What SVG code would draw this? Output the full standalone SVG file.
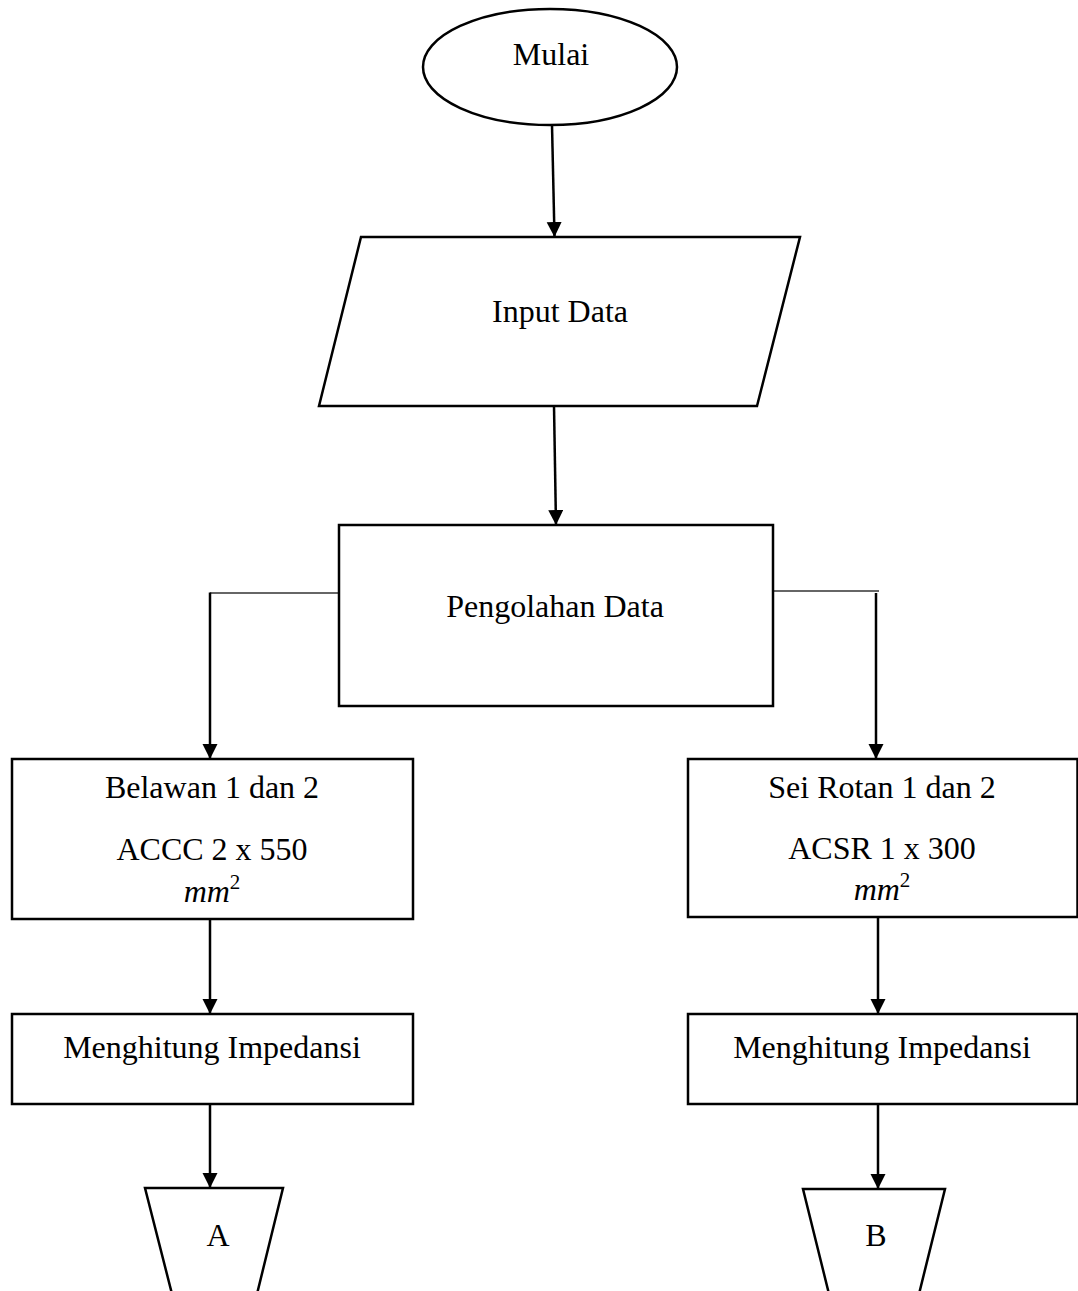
<svg xmlns="http://www.w3.org/2000/svg" width="1078" height="1291" viewBox="0 0 1078 1291">
<style>
.shape{fill:#fff;stroke:#000;stroke-width:2.5}
.t{font-family:"Liberation Serif","Times New Roman",serif;font-size:32px;fill:#000;text-anchor:middle}
.m{font-family:"Liberation Serif","Times New Roman",serif;font-style:italic;font-size:32px;fill:#000;text-anchor:middle}
.c{fill:none;stroke:#000;stroke-width:2.5}
.thin{fill:none;stroke:#333;stroke-width:1.3}
</style>
<defs>
<marker id="ah" markerUnits="userSpaceOnUse" markerWidth="16" markerHeight="16" refX="15" refY="7.5" orient="auto">
<path d="M0,0 L15,7.5 L0,15 z" fill="#000"/>
</marker>
</defs>
<rect width="1078" height="1291" fill="#fff"/>
<g id="connectors">
<line class="c" x1="552" y1="125" x2="554.5" y2="237" marker-end="url(#ah)"/>
<line class="c" x1="554" y1="406" x2="556" y2="525" marker-end="url(#ah)"/>
<line class="thin" x1="339" y1="593" x2="210" y2="593"/>
<line class="c" x1="210" y1="592.5" x2="210" y2="759" marker-end="url(#ah)"/>
<line class="thin" x1="773" y1="591" x2="879" y2="591"/>
<line class="c" x1="876" y1="593" x2="876" y2="759" marker-end="url(#ah)"/>
<line class="c" x1="210" y1="919" x2="210" y2="1014" marker-end="url(#ah)"/>
<line class="c" x1="878" y1="917" x2="878" y2="1014" marker-end="url(#ah)"/>
<line class="c" x1="210" y1="1104" x2="210" y2="1188" marker-end="url(#ah)"/>
<line class="c" x1="878" y1="1104" x2="878" y2="1189" marker-end="url(#ah)"/>
</g>
<g id="mulai">
<ellipse class="shape" cx="550" cy="67" rx="127" ry="58"/>
<text class="t" x="551" y="65">Mulai</text>
</g>
<g id="input">
<polygon class="shape" points="361,237 800,237 757,406 319,406"/>
<text class="t" x="560" y="322">Input Data</text>
</g>
<g id="pengolahan">
<rect class="shape" x="339" y="525" width="434" height="181"/>
<text class="t" x="555" y="617">Pengolahan Data</text>
</g>
<g id="belawan">
<rect class="shape" x="12" y="759" width="401" height="160"/>
<text class="t" x="212" y="798">Belawan 1 dan 2</text>
<text class="t" x="212" y="860">ACCC 2 x 550</text>
<text class="m" x="212" y="902">mm<tspan font-size="21" font-style="normal" dy="-13">2</tspan></text>
</g>
<g id="seirotan">
<rect class="shape" x="688" y="759" width="389.5" height="158"/>
<text class="t" x="882" y="798">Sei Rotan 1 dan 2</text>
<text class="t" x="882" y="859">ACSR 1 x 300</text>
<text class="m" x="882" y="900">mm<tspan font-size="21" font-style="normal" dy="-13">2</tspan></text>
</g>
<g id="impedansi-a">
<rect class="shape" x="12" y="1014" width="401" height="90"/>
<text class="t" x="212" y="1058">Menghitung Impedansi</text>
</g>
<g id="impedansi-b">
<rect class="shape" x="688" y="1014" width="389.5" height="90"/>
<text class="t" x="882" y="1058">Menghitung Impedansi</text>
</g>
<g id="offpage-a">
<polygon class="shape" points="145,1188 283,1188 257,1294 172,1294"/>
<text class="t" x="218" y="1246">A</text>
</g>
<g id="offpage-b">
<polygon class="shape" points="803,1189 945,1189 919,1294 829,1294"/>
<text class="t" x="876" y="1246">B</text>
</g>
</svg>
